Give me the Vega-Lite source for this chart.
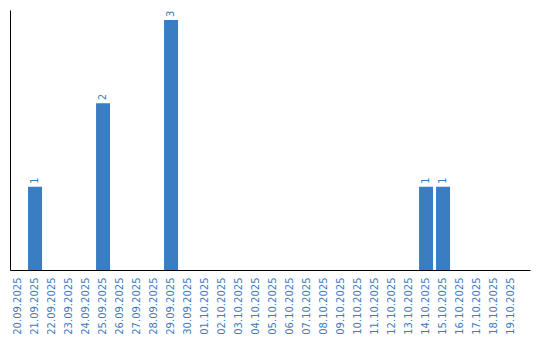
{
  "$schema": "https://vega.github.io/schema/vega-lite/v6.json",
  "width": 520,
  "height": 260,
  "autosize": {"type": "none"},
  "padding": {"left": 10, "top": 10, "right": 10, "bottom": 70},
  "background": "white",
  "config": {"view": {"stroke": null}, "font": "DejaVu Sans"},
  "data": {"values": [
    {"date": "20.09.2025", "count": 0},
    {"date": "21.09.2025", "count": 1},
    {"date": "22.09.2025", "count": 0},
    {"date": "23.09.2025", "count": 0},
    {"date": "24.09.2025", "count": 0},
    {"date": "25.09.2025", "count": 2},
    {"date": "26.09.2025", "count": 0},
    {"date": "27.09.2025", "count": 0},
    {"date": "28.09.2025", "count": 0},
    {"date": "29.09.2025", "count": 3},
    {"date": "30.09.2025", "count": 0},
    {"date": "01.10.2025", "count": 0},
    {"date": "02.10.2025", "count": 0},
    {"date": "03.10.2025", "count": 0},
    {"date": "04.10.2025", "count": 0},
    {"date": "05.10.2025", "count": 0},
    {"date": "06.10.2025", "count": 0},
    {"date": "07.10.2025", "count": 0},
    {"date": "08.10.2025", "count": 0},
    {"date": "09.10.2025", "count": 0},
    {"date": "10.10.2025", "count": 0},
    {"date": "11.10.2025", "count": 0},
    {"date": "12.10.2025", "count": 0},
    {"date": "13.10.2025", "count": 0},
    {"date": "14.10.2025", "count": 1},
    {"date": "15.10.2025", "count": 1},
    {"date": "16.10.2025", "count": 0},
    {"date": "17.10.2025", "count": 0},
    {"date": "18.10.2025", "count": 0},
    {"date": "19.10.2025", "count": 0}
  ]},
  "encoding": {
    "x": {
      "field": "date", "type": "nominal", "sort": null,
      "scale": {"paddingInner": 0.176, "paddingOuter": 0.382, "align": 0.08},
      "axis": {
        "title": null, "labelAngle": -90, "ticks": false, "grid": false,
        "domainColor": "#000000", "domainWidth": 1,
        "labelColor": "#3b7dc3", "labelFontSize": 10, "labelPadding": 7,
        "labelFont": "DejaVu Sans"
      }
    },
    "y": {
      "field": "count", "type": "quantitative",
      "scale": {"domain": [0, 3.12], "nice": false, "zero": true},
      "axis": {
        "title": null, "labels": false, "ticks": false, "grid": false,
        "domainColor": "#000000", "domainWidth": 1
      }
    }
  },
  "layer": [
    {"mark": {"type": "bar", "color": "#3b7dc3"}},
    {
      "transform": [{"filter": "datum.count > 0"}],
      "mark": {"type": "text", "angle": -90, "align": "left", "baseline": "middle", "dx": 3, "fontSize": 10, "color": "#3b7dc3", "font": "DejaVu Sans"},
      "encoding": {"text": {"field": "count", "type": "quantitative"}}
    }
  ]
}
